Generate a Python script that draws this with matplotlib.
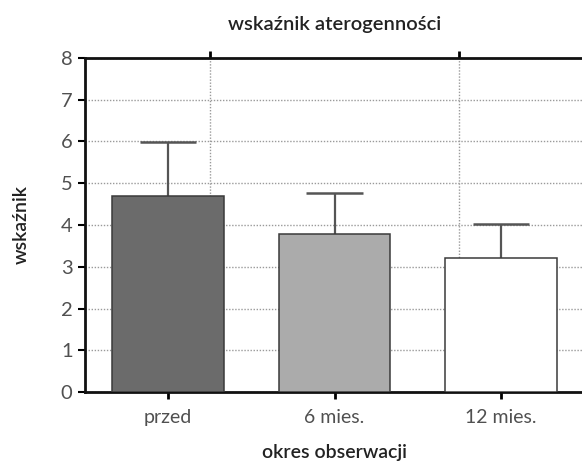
import matplotlib.pyplot as plt

periods = ['przed', '6 mies.', '12 mies.']
means = [4.70, 3.78, 3.22]
sd_upper = [1.29, 0.99, 0.80]
bar_colors = ['#6b6b6b', '#ababab', '#ffffff']
top_ticks = [0.25, 1.0, 1.75]

plt.rcParams['font.family'] = ['Lato', 'DejaVu Sans']

fig = plt.figure(figsize=(5.82, 4.61), dpi=100)
ax = fig.add_axes([85 / 582, 69 / 461, 499 / 582, 334 / 461])

x = range(len(periods))
ax.bar(x, means, width=0.67, color=bar_colors, edgecolor='#3a3a3a', linewidth=1.1, zorder=3)

# only the upper half of the error bar is shown
tops = [m + s for m, s in zip(means, sd_upper)]
ax.vlines(x, means, tops, color='#555555', linewidth=1.6, zorder=2)
ax.hlines(tops, [i - 0.17 for i in x], [i + 0.17 for i in x], color='#555555', linewidth=1.8, zorder=2)

ax.set_xlim(-0.5, 2.5)
ax.set_ylim(0, 8)
ax.set_yticks(range(0, 9))
ax.set_xticks(list(x))
ax.set_xticklabels(periods)
ax.set_xticks(top_ticks, minor=True)

ax.grid(axis='y', which='major', linestyle=(0, (1, 1.2)), color='#9a9a9a', linewidth=1.0)
ax.grid(axis='x', which='minor', linestyle=(0, (1, 1.2)), color='#9a9a9a', linewidth=1.0)
ax.set_axisbelow(True)

ax.tick_params(axis='x', which='major', direction='out', length=5, width=2, pad=7,
               labelsize=14, labelcolor='#505050')
ax.tick_params(axis='x', which='minor', bottom=False, top=True, direction='out', length=5, width=2)
ax.tick_params(axis='y', direction='out', length=5, width=1.5, pad=4,
               labelsize=14.5, labelcolor='#505050')

for side in ['left', 'bottom', 'top']:
    ax.spines[side].set_linewidth(2)
    ax.spines[side].set_color('#111111')
ax.spines['right'].set_visible(False)

ax.set_title('wskaźnik aterogenności', fontsize=14.5, fontweight='semibold', color='#222222', pad=20)
ax.set_xlabel('okres obserwacji', fontsize=14, fontweight='semibold', color='#222222', labelpad=13)
ax.set_ylabel('wskaźnik', fontsize=14, fontweight='semibold', color='#222222', labelpad=22)

plt.savefig('out.png', dpi=100)
